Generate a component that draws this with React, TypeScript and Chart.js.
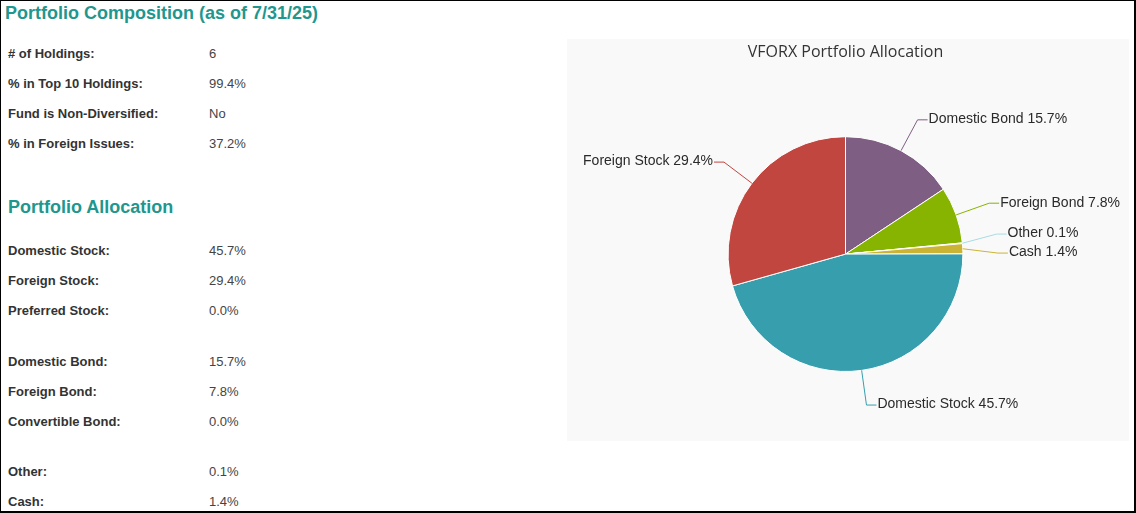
import React, { useEffect, useRef } from "react";
import { Chart, registerables } from "chart.js";

Chart.register(...registerables);

// ---------- data ----------
const reportTitle = "Portfolio Composition (as of 7/31/25)";
const compositionLabels = ["# of Holdings:", "% in Top 10 Holdings:", "Fund is Non-Diversified:", "% in Foreign Issues:"];
const compositionValues = ["6", "99.4%", "No", "37.2%"];

const allocationTitle = "Portfolio Allocation";
const allocationLabels = ["Domestic Stock:", "Foreign Stock:", "Preferred Stock:", "Domestic Bond:", "Foreign Bond:", "Convertible Bond:", "Other:", "Cash:"];
const allocationValues = ["45.7%", "29.4%", "0.0%", "15.7%", "7.8%", "0.0%", "0.1%", "1.4%"];
const allocationGroup = [0, 0, 0, 1, 1, 1, 2, 2];

const chartTitle = "VFORX Portfolio Allocation";
const pieCategories = ["Domestic Bond", "Foreign Bond", "Other", "Cash", "Domestic Stock", "Foreign Stock"];
const pieValues = [15.7, 7.8, 0.1, 1.4, 45.7, 29.4];
const pieColors = ["#7F5E83", "#86B400", "#A6DCE2", "#CBB434", "#379EAE", "#C0463F"];

// ---------- style ----------
const TEAL = "#1F978E";
const FONT = "Arial, 'Liberation Sans', sans-serif";

const leaderLabels = {
  id: "leaderLabels",
  afterDatasetsDraw(chart: any) {
    const meta = chart.getDatasetMeta(0);
    const ds = chart.data.datasets[0];
    const ctx = chart.ctx as CanvasRenderingContext2D;
    const items = meta.data.map((arc: any, i: number) => {
      const p = arc.getProps(["x", "y", "startAngle", "endAngle", "outerRadius"], true);
      const mid = (p.startAngle + p.endAngle) / 2;
      const R = p.outerRadius + 35;
      return {
        i,
        cx: p.x,
        cy: p.y,
        r: p.outerRadius,
        mid,
        R,
        right: Math.cos(mid) >= 0,
        natural: p.y + R * Math.sin(mid),
        y: p.y + R * Math.sin(mid),
      };
    });
    const GAP = 19;
    for (const side of [true, false]) {
      const list = items.filter((it: any) => it.right === side).sort((a: any, b: any) => a.natural - b.natural);
      let clusters = list.map((it: any) => ({ items: [it], top: it.natural }));
      let merged = true;
      while (merged) {
        merged = false;
        for (let k = 0; k < clusters.length - 1; k++) {
          const a = clusters[k];
          const b = clusters[k + 1];
          if (a.top + a.items.length * GAP > b.top) {
            const all = a.items.concat(b.items);
            const mean = all.reduce((s: number, it: any) => s + it.natural, 0) / all.length;
            clusters.splice(k, 2, { items: all, top: mean - ((all.length - 1) * GAP) / 2 });
            merged = true;
            break;
          }
        }
      }
      clusters.forEach((c: any) => c.items.forEach((it: any, j: number) => (it.y = c.top + j * GAP)));
    }
    ctx.save();
    ctx.font = `14px ${FONT}`;
    ctx.lineWidth = 1;
    items.forEach((it: any) => {
      const color = ds.backgroundColor[it.i];
      const dir = it.right ? 1 : -1;
      const dy = it.y - it.cy;
      const dx = Math.sqrt(Math.max(it.R * it.R - dy * dy, 0));
      const bx = it.cx + dir * dx;
      const ex = it.cx + it.r * Math.cos(it.mid);
      const ey = it.cy + it.r * Math.sin(it.mid);
      ctx.strokeStyle = color;
      ctx.beginPath();
      ctx.moveTo(ex, ey);
      ctx.lineTo(bx, it.y);
      ctx.lineTo(bx + dir * 10, it.y);
      ctx.stroke();
      ctx.fillStyle = "#2A2A2A";
      ctx.textAlign = it.right ? "left" : "right";
      ctx.textBaseline = "alphabetic";
      const text = `${chart.data.labels[it.i]} ${ds.data[it.i].toFixed(1)}%`;
      ctx.fillText(text, bx + dir * 11, it.y + 3.3);
    });
    ctx.restore();
  },
};

function PieChart() {
  const ref = useRef<HTMLCanvasElement>(null);
  useEffect(() => {
    if (!ref.current) return;
    const chart = new Chart(ref.current, {
      type: "pie",
      data: {
        labels: pieCategories,
        datasets: [
          {
            data: pieValues,
            backgroundColor: pieColors,
            borderColor: "#ffffff",
            borderWidth: 1,
          },
        ],
      },
      options: {
        animation: false,
        responsive: true,
        maintainAspectRatio: false,
        layout: { padding: { left: 0, right: 5, top: 0, bottom: 69 } },
        plugins: {
          legend: { display: false },
          tooltip: { enabled: false },
          title: {
            display: true,
            text: chartTitle,
            color: "#333333",
            font: { family: "'Open Sans', sans-serif", size: 16, weight: "normal" },
            padding: { top: 4, bottom: 74 },
          },
        },
      },
      plugins: [leaderLabels],
    } as any);
    return () => chart.destroy();
  }, []);
  return (
    <div style={{ position: "absolute", left: 567, top: 39, width: 562, height: 402, background: "#F9F9F9" }}>
      <canvas ref={ref} />
    </div>
  );
}

function textAt(text: string, left: number, capCenter: number, size: number, bold: boolean, color: string, key?: any) {
  return (
    <div
      key={key}
      style={{
        position: "absolute",
        left,
        top: capCenter - 0.4885 * size,
        fontFamily: FONT,
        fontSize: size,
        lineHeight: `${size}px`,
        fontWeight: bold ? "bold" : "normal",
        color,
        whiteSpace: "nowrap",
      }}
    >
      {text}
    </div>
  );
}

export default function App() {
  const ROW0 = 53.2;
  const STEP = 30;
  const A0 = 250.6;
  const GROUP_GAP = 20.5;
  return (
    <div
      style={{
        position: "fixed",
        left: 0,
        top: 0,
        width: 1136,
        height: 513,
        boxSizing: "border-box",
        borderTop: "1px solid #000",
        borderLeft: "1px solid #000",
        borderRight: "2px solid #000",
        borderBottom: "2px solid #000",
        background: "#fff",
        overflow: "hidden",
      }}
    >
      <div style={{ position: "absolute", left: -1, top: -1, width: 1136, height: 513 }}>
        {textAt(reportTitle, 5, 13.2, 18, true, TEAL)}
        {compositionLabels.map((l, i) => textAt(l, 8, ROW0 + i * STEP, 13, true, "#333333", "cl" + i))}
        {compositionValues.map((v, i) => textAt(v, 209, ROW0 + i * STEP, 13, false, "#444444", "cv" + i))}
        {textAt(allocationTitle, 8, 206.7, 18, true, TEAL)}
        {allocationLabels.map((l, i) =>
          textAt(l, 8, A0 + i * STEP + allocationGroup[i] * GROUP_GAP, 13, true, "#333333", "al" + i)
        )}
        {allocationValues.map((v, i) =>
          textAt(v, 209, A0 + i * STEP + allocationGroup[i] * GROUP_GAP, 13, false, "#444444", "av" + i)
        )}
        <PieChart />
      </div>
    </div>
  );
}
